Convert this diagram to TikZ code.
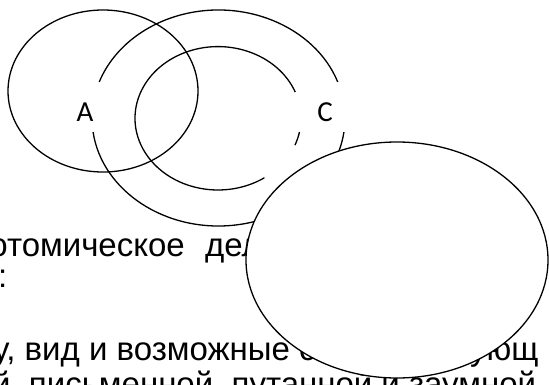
\documentclass[tikz,border=0pt]{standalone}
\usepackage{fontspec}
\setmainfont{Liberation Sans}
\newfontfamily\lblfont{Carlito}
\usetikzlibrary{positioning}

\begin{document}
\begin{tikzpicture}[x=1pt,y=1pt,
    ring/.style={line width=1.3pt},
    lbl/.style={font=\lblfont\fontsize{29}{33}\selectfont,inner sep=0pt},
    txt/.style={font=\fontsize{33}{36}\selectfont,anchor=base west,inner sep=0pt}]
  \clip (0,0) rectangle (549,-385);
  % text lines behind the shapes
  \node[txt,anchor=base east] (lineA) at (185,-256) {отомическое};
  \node[txt] (lineAb) at (205,-256) {дел};
  \node[txt] (lineB) at (-2,-287) {:};
  \node[txt] (lineC) at (-7,-360) {у, вид и возможные с};
  \node[txt] (lineCb) at (470,-360) {ующ};
  \node[txt] (lineD) at (-8,-395) {й, письменной, путанной и заумной};
  % left ellipse
  \draw[ring] (103,-91) ellipse[x radius=95,y radius=81];
  % outer ring, broken at the labels
  \draw[ring] (218.5,-118) ++(19.5:126.5 and 108) arc[start angle=19.5,end angle=160.5,x radius=126.5,y radius=108];
  \draw[ring] (218.5,-118) ++(187.5:126.5 and 108) arc[start angle=187.5,end angle=352.5,x radius=126.5,y radius=108];
  % inner ring
  \draw[ring] (218,-118.3) ++(21.5:83 and 71.7) arc[start angle=21.5,end angle=304,x radius=83,y radius=71.7];
  \draw[ring] (218,-118.3) ++(-11:83 and 71.7) arc[start angle=-11,end angle=-22,x radius=83,y radius=71.7];
  \node[lbl] (labA) at (85,-112) {A};
  \node[lbl] (labC) at (325,-112) {C};
  % white ellipse on top
  \draw[ring,fill=white] (397,-260) ellipse[x radius=151,y radius=118];
\end{tikzpicture}
\end{document}
